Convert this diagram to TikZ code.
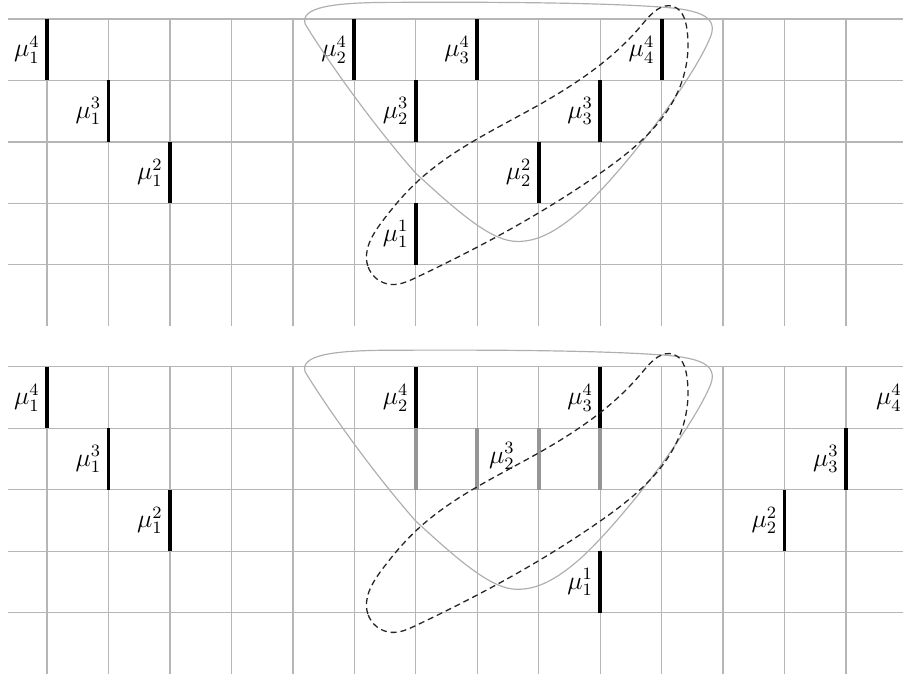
\documentclass[tikz,border=0pt]{standalone}
\usetikzlibrary{hobby}
\definecolor{gridgray}{RGB}{182,182,182}
\definecolor{bargray}{RGB}{150,150,150}
\definecolor{loopgray}{RGB}{175,175,175}
\begin{document}
\begin{tikzpicture}[x=1cm,y=1cm,
  gridline/.style={draw=gridgray, line width=0.6pt},
  blackbar/.style={line width=1.8pt, draw=black},
  graybar/.style={line width=1.8pt, draw=bargray},
  lab/.style={left, inner sep=2.5pt, font=\large},
  solidloop/.style={draw=loopgray, line width=0.55pt},
  dashloop/.style={draw=black!85, line width=0.6pt, dash pattern=on 2.8pt off 1.8pt}]
\useasboundingbox (-0.765,0.309) rectangle (13.928,-10.739);
\newcommand\mkbar[5]{\draw[#5] (#2,-#3) -- ++(0,-1) node[midway,lab] (#1) {$#4$};}
\newcommand\mkgrid{%
  \foreach \y in {0,...,4} \draw[gridline] (-0.635,-\y) -- (14,-\y);
  \foreach \x in {0,...,13} \draw[gridline] (\x,0) -- (\x,-5);}
\newcommand\mkloops{%
  \draw[solidloop]
    (4.2,-0.08) .. controls (4.12,0.18) and (4.6,0.27) .. (5.6,0.27)
    .. controls (7.5,0.28) and (9.0,0.26) .. (9.9,0.2)
    .. controls (10.6,0.16) and (10.92,0.05) .. (10.8,-0.28)
    .. controls (10.52,-0.98) and (9.4,-2.45) .. (8.7,-3.1)
    .. controls (8.25,-3.5) and (7.95,-3.62) .. (7.65,-3.62)
    .. controls (7.25,-3.62) and (6.75,-3.2) .. (6.0,-2.51)
    .. controls (5.2,-1.6) and (4.45,-0.5) .. (4.2,-0.08) -- cycle;
  \draw[dashloop, use Hobby shortcut, closed=true]
    (5.22,-4.02) .. (5.45,-3.3) .. (6.0,-2.67) .. (8.0,-1.40) .. (9.7,-0.07)
    .. (10.2,0.2) .. (10.41,-0.15) .. (10.3,-1.1) .. (9.0,-2.51) .. (6.0,-4.21)
    .. (5.6,-4.32);}
% top grid
\begin{scope}
  \mkgrid
  \mkbar{t14}{0}{0}{\mu_1^4}{blackbar}
  \mkbar{t13}{1}{1}{\mu_1^3}{blackbar}
  \mkbar{t12}{2}{2}{\mu_1^2}{blackbar}
  \mkbar{t24}{5}{0}{\mu_2^4}{blackbar}
  \mkbar{t34}{7}{0}{\mu_3^4}{blackbar}
  \mkbar{t44}{10}{0}{\mu_4^4}{blackbar}
  \mkbar{t23}{6}{1}{\mu_2^3}{blackbar}
  \mkbar{t33}{9}{1}{\mu_3^3}{blackbar}
  \mkbar{t22}{8}{2}{\mu_2^2}{blackbar}
  \mkbar{t11}{6}{3}{\mu_1^1}{blackbar}
  \mkloops
\end{scope}
% bottom grid
\begin{scope}[yshift=-5.66cm]
  \mkgrid
  \draw[graybar] (6,-1) -- (6,-2);
  \draw[graybar] (7,-1) -- (7,-2);
  \draw[graybar] (8,-1) -- (8,-2);
  \draw[graybar] (9,-1) -- (9,-2);
  \mkbar{b14}{0}{0}{\mu_1^4}{blackbar}
  \mkbar{b13}{1}{1}{\mu_1^3}{blackbar}
  \mkbar{b12}{2}{2}{\mu_1^2}{blackbar}
  \mkbar{b24}{6}{0}{\mu_2^4}{blackbar}
  \mkbar{b34}{9}{0}{\mu_3^4}{blackbar}
  \mkbar{b33}{13}{1}{\mu_3^3}{blackbar}
  \mkbar{b22}{12}{2}{\mu_2^2}{blackbar}
  \mkbar{b11}{9}{3}{\mu_1^1}{blackbar}
  \node[lab] (b44) at (14,-0.5) {$\mu_4^4$};
  \node[font=\large] (b23) at (7.4,-1.45) {$\mu_2^3$};
  \mkloops
\end{scope}
\end{tikzpicture}
\end{document}
